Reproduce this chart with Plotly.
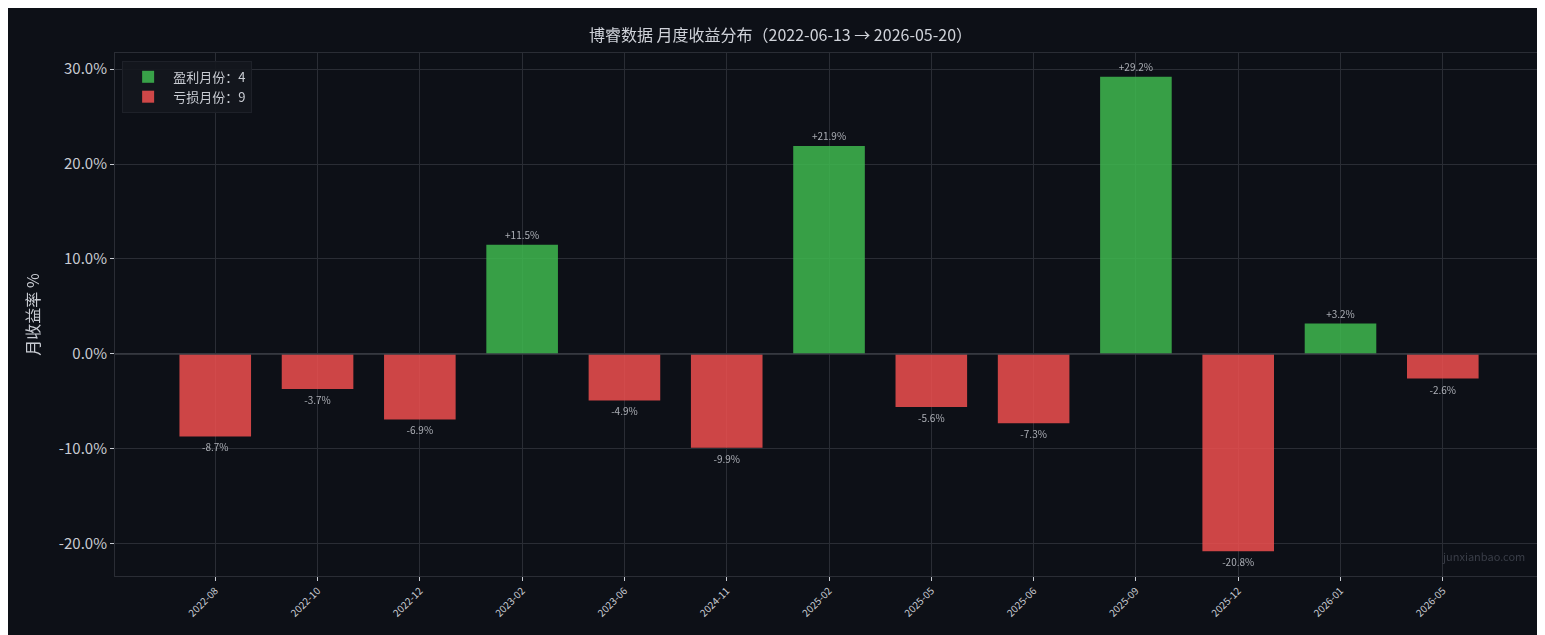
import plotly.graph_objects as go

months = ['2022-08', '2022-10', '2022-12', '2023-02', '2023-06', '2024-11', '2025-02',
          '2025-05', '2025-06', '2025-09', '2025-12', '2026-01', '2026-05']
returns = [-8.7, -3.7, -6.9, 11.5, -4.9, -9.9, 21.9, -5.6, -7.3, 29.2, -20.8, 3.2, -2.6]

FONT = 'Noto Sans CJK SC, Noto Sans, sans-serif'
BG = '#0d1017'
GRID = '#2a2d35'

fig = go.Figure()
for name, cond, color in [('盈利月份', lambda v: v > 0, '#3fba50'),
                          ('亏损月份', lambda v: v <= 0, '#f05050')]:
    xs = [m for m, v in zip(months, returns) if cond(v)]
    ys = [v for v in returns if cond(v)]
    fig.add_trace(go.Bar(
        x=xs, y=ys, name=f'{name}：{len(ys)}',
        marker=dict(color=color, line=dict(width=0)), opacity=0.85,
        text=[f'{v:+.1f}%' for v in ys], textposition='outside',
        textfont=dict(size=10, color='#c8cbd2'), cliponaxis=False,
    ))

axis = dict(showgrid=True, gridcolor=GRID, gridwidth=1, layer='above traces',
            showline=True, linecolor=GRID, mirror=True, zeroline=False,
            ticks='outside', tickcolor='#c8cbd2', ticklen=4)
fig.update_layout(
    title=dict(text='博睿数据 月度收益分布（2022-06-13 → 2026-05-20）', x=0.5, y=0.965,
               font=dict(size=16, color='#d0d3da')),
    paper_bgcolor=BG, plot_bgcolor=BG,
    font=dict(family=FONT, color='#c8cbd2'),
    width=1545, height=635, margin=dict(l=107, r=12, t=45, b=67),
    bargap=0.3, barmode='relative',
    legend=dict(x=0.005, y=0.985, xanchor='left', yanchor='top', bgcolor='rgba(20,23,30,0.9)',
                bordercolor='#1e2129', borderwidth=1, itemwidth=40,
                font=dict(size=13, color='#c8cbd2')),
    xaxis=dict(axis, type='category', categoryorder='array', categoryarray=months,
               range=[-0.98, 12.96], tickangle=-45, tickfont=dict(size=10)),
    yaxis=dict(axis, range=[-23.4, 31.7], tickvals=[-20, -10, 0, 10, 20, 30],
               ticktext=['-20.0%', '-10.0%', '0.0%', '10.0%', '20.0%', '30.0%'],
               tickfont=dict(size=15),
               title=dict(text='月收益率 %', font=dict(size=16))),
    shapes=[dict(type='line', xref='paper', x0=0, x1=1, yref='y', y0=0, y1=0,
                 line=dict(color='#3a3d45', width=1.5))],
    annotations=[dict(text='junxianbao.com', xref='paper', yref='paper', x=0.99, y=0.02,
                      xanchor='right', yanchor='bottom', showarrow=False,
                      font=dict(size=11, color='#3a3e48'))],
)
fig.write_html('out.html')
